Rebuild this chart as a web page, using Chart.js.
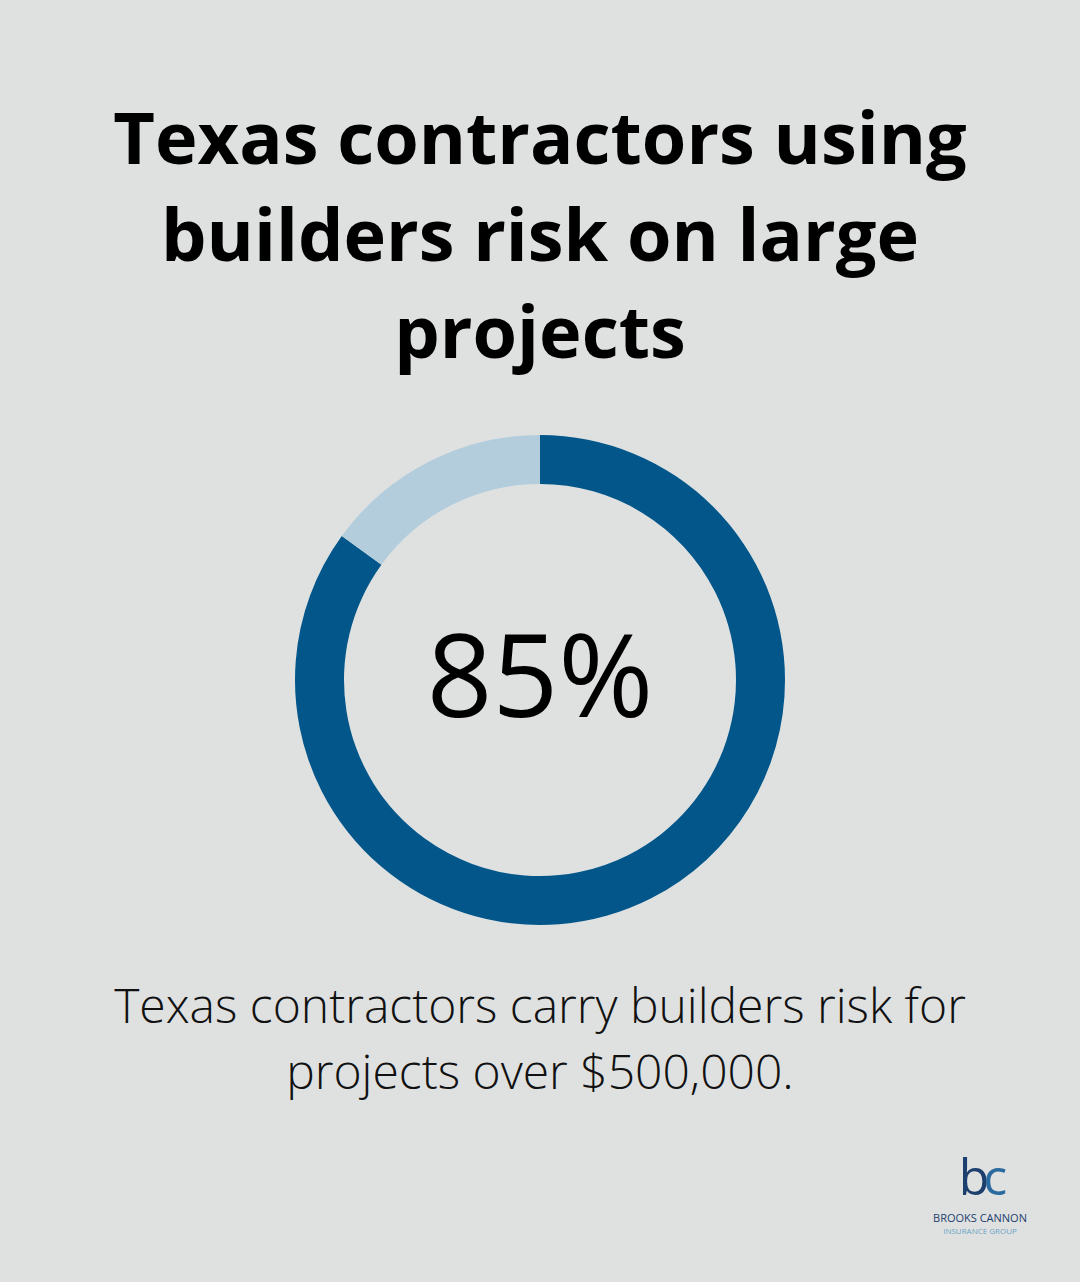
<!DOCTYPE html>
<html><head><meta charset="utf-8">
<script src="https://cdn.jsdelivr.net/npm/chart.js@4"></script>
<style>
html,body{margin:0;padding:0;background:#dfe1e1;width:1080px;height:1282px;overflow:hidden;font-family:"Open Sans",sans-serif;}
h1{position:absolute;top:88px;left:0;width:1080px;margin:0;text-align:center;font-size:72px;font-weight:700;line-height:97px;color:#000;}
#wrap{position:absolute;left:290px;top:430px;width:500px;height:500px;}
#center{position:absolute;left:0;top:608px;width:1080px;text-align:center;font-size:115px;font-weight:500;color:#000;line-height:130px;}
#sub{position:absolute;top:972px;left:0;width:1080px;text-align:center;font-size:48px;font-weight:300;line-height:66px;color:#111;}
#logo{position:absolute;left:918px;top:1142px;width:124px;text-align:center;}
#logo div{white-space:nowrap;}
</style></head><body>
<h1>Texas contractors using<br>builders risk on large<br>projects</h1>
<div id="wrap"><canvas id="c"></canvas></div>
<div id="center">85%</div>
<div id="sub">Texas contractors carry builders risk for<br>projects over $500,000.</div>
<div id="logo">
<div style="font-size:50px;line-height:normal;font-weight:400;letter-spacing:-6px;"><span style="color:#1d3f6e">b</span><span style="color:#2a6a9e">c</span></div>
<div style="font-size:11px;color:#1d3f6e;line-height:normal;margin-top:0px;">BROOKS CANNON</div>
<div style="font-size:8px;color:#6aa3c4;line-height:normal;">INSURANCE GROUP</div>
</div>
<script>
const labels=["Using builders risk","Not using"];
const values=[85,15];
const colors=["#02568a","#b3cddc"];
new Chart(document.getElementById('c'),{type:'doughnut',
data:{labels:labels,datasets:[{data:values,backgroundColor:colors,borderWidth:0}]},
options:{responsive:true,maintainAspectRatio:false,animation:false,cutout:'80%',
layout:{padding:5},
plugins:{legend:{display:false},tooltip:{enabled:false}}}});
</script>
</body></html>
